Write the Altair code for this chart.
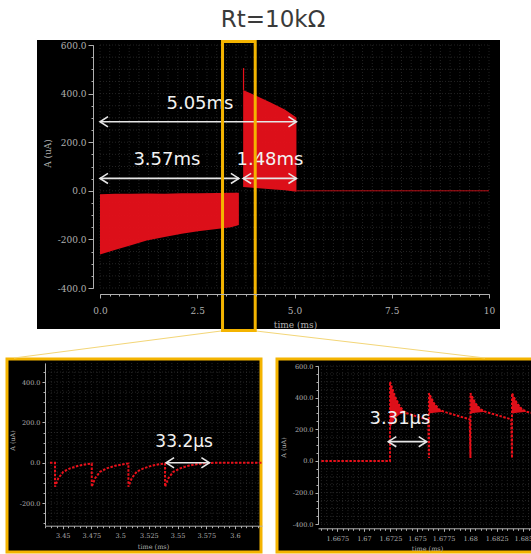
import altair as alt
import pandas as pd

# ---------------- data ----------------
TITLE = "Rt=10kΩ"

# top panel: full record (time in ms, current in uA)
neg_t = [0.0, 0.4, 0.82, 1.2, 1.66, 2.1, 2.52, 3.0, 3.37, 3.57]
neg_hi = [-14, -12, -12, -11, -12, -10, -10, -9, -8, -8]
neg_lo = [-262, -243, -223, -205, -190, -177, -166, -157, -150, -141]
pos_t = [3.68, 4.0, 4.4, 4.75, 5.05]
pos_hi = [415, 392, 362, 335, 302]
pos_lo = [16, 12, 6, 2, -4]
spike_t = [3.69]
spike_lo = [415]
spike_hi = [505]
idle_t = [5.05, 10.0]
idle_v = [0, 0]
top_arrow_start = [0.0, 0.0, 3.68]
top_arrow_end = [5.05, 3.57, 5.05]
top_arrow_y = [284, 51, 51]
top_label_text = ["5.05ms", "3.57ms", "1.48ms"]
top_label_t = [2.57, 1.72, 4.37]
top_label_y = [359, 127, 127]
zoom_window = [3.15, 3.99]

# bottom-left panel: end of the negative burst
bl_t = [3.4389, 3.4433, 3.4433, 3.4462, 3.4505, 3.4564, 3.4636, 3.4709, 3.4753,
        3.4753, 3.4782, 3.4825, 3.4884, 3.4956, 3.5029, 3.5072,
        3.5072, 3.5101, 3.5144, 3.5203, 3.5275, 3.5348, 3.5391,
        3.5391, 3.5420, 3.5463, 3.5522, 3.5594, 3.5667, 3.5730, 3.5780, 3.5850, 3.6235]
bl_v = [0, 0, -119, -77, -45, -28, -15, -7, -4,
        -119, -77, -45, -28, -15, -7, -4,
        -119, -77, -45, -28, -15, -7, -4,
        -119, -77, -45, -28, -15, -7, -3, -1, 0, 0]
bl_arrow = [3.5400, 3.5777]
bl_arrow_y = [0]
bl_label = "33.2μs"
bl_label_t = [3.5557]
bl_label_y = [104]

# bottom-right panel: start of the positive burst
br_t = [1.6660, 1.67246, 1.67246, 1.67293, 1.67340, 1.67387, 1.67606,
        1.67613, 1.67613, 1.67660, 1.67707, 1.67754, 1.67996,
        1.68003, 1.68003, 1.68050, 1.68097, 1.68144, 1.68387,
        1.68394, 1.68394, 1.68441, 1.68488, 1.68535, 1.68700]
br_v = [0, 0, 501, 406, 343, 305, 259,
        19, 428, 364, 326, 311, 263,
        19, 428, 364, 326, 311, 263,
        19, 428, 364, 326, 311, 285]
fin_pulse = [1, 1, 1, 1, 2, 2, 2, 2, 3, 3, 3, 3, 4, 4, 4, 4]
fin_t = [1.67246, 1.67293, 1.67340, 1.67387,
         1.67613, 1.67660, 1.67707, 1.67754,
         1.68003, 1.68050, 1.68097, 1.68144,
         1.68394, 1.68441, 1.68488, 1.68535]
fin_hi = [501, 406, 343, 305, 428, 364, 326, 311, 428, 364, 326, 311, 428, 364, 326, 311]
fin_lo = [208, 270, 295, 305, 300, 305, 308, 311, 300, 305, 308, 311, 300, 305, 308, 311]
br_arrow = [1.67230, 1.67591]
br_arrow_y = [122]
br_label = "3.31μs"
br_label_t = [1.67340]
br_label_y = [265]

# axis tick values
top_x_ticks = [0, 2.5, 5, 7.5, 10]
top_y_ticks = [-400, -200, 0, 200, 400, 600]
bl_x_ticks = [3.45, 3.475, 3.5, 3.525, 3.55, 3.575, 3.6]
bl_y_ticks = [-200, 0, 200, 400]
br_x_ticks = [1.6675, 1.67, 1.6725, 1.675, 1.6775, 1.68, 1.6825, 1.685]
br_y_ticks = [-400, -200, 0, 200, 400, 600]
top_x_minor = [i * 0.25 for i in range(41)]
top_y_minor = [-400 + 50 * i for i in range(21)]
bl_x_minor = [round(3.435 + 0.005 * i, 4) for i in range(38)]
bl_y_minor = [-300 + 50 * i for i in range(16)]
br_x_minor = [round(1.666 + 0.0005 * i, 4) for i in range(46)]
br_y_minor = [-400 + 50 * i for i in range(21)]

# ---------------- styling ----------------
RED = "#e8101a"
GOLD = "#f4b400"
ARROW = "#e6e6e6"
GRID = "#3a3a3a"
AXC = "#b0b0b0"
LEFT_HEAD = "M1.33,-0.85L0,0L1.33,0.85"
RIGHT_HEAD = "M-1.33,-0.85L0,0L-1.33,0.85"
Y_EXPR = "replace(format(datum.value, '.1f'), '\u2212', '-')"
G_EXPR = "format(datum.value, '.6~g')"
TOP_X_EXPR = "datum.value == 10 ? '10' : format(datum.value, '.1f')"


def sc(domain, rng):
    return alt.Scale(domain=domain, range=rng, nice=False, zero=False, clamp=False)


TX = sc([0, 10], [100, 489])
TY = sc([-400, 600], [288, 45])
LX = sc([3.4346, 3.6235], [45, 262])
LY = sc([-310, 495], [525.2, 363.0])
RX = sc([1.665684, 1.688456], [318, 560])
RY = sc([-400, 600], [524.3, 366])
TXS = {"top": TX, "bl": LX, "br": RX}

AX = dict(domainColor=AXC, tickColor=AXC, labelColor=AXC, titleColor=AXC,
          labelFont="DejaVu Serif", titleFont="DejaVu Serif", titleFontWeight="normal",
          grid=False, zindex=1, labelOverlap=False, labelFlush=False)


def major_x(offset, values, fs, pad, tx, ty, expr):
    return alt.Axis(orient="bottom", offset=offset, values=values,
                    tickSize=4 if fs > 7 else 3, labelExpr=expr,
                    labelFontSize=fs, labelPadding=pad, title="time (ms)", titleFontSize=fs,
                    titleX=tx, titleY=ty, titleBaseline="middle", **AX)


def major_y(offset, values, fs, tx, ty):
    return alt.Axis(orient="left", offset=offset, values=values, labelExpr=Y_EXPR,
                    tickSize=5 if fs > 7 else 3, labelFontSize=fs, labelPadding=2,
                    title="A (uA)", titleFontSize=fs, titleX=tx, titleY=ty,
                    titleBaseline="middle", **AX)


def minor(orient, offset, values):
    return alt.Axis(orient=orient, offset=offset, values=values, labels=False, domain=False,
                    tickSize=2, tickColor=AXC, grid=False, zindex=1, title=None)


ONE = pd.DataFrame({"k": [0]})
layers = []

# ---------------- decoration: title, panels, connectors ----------------
layers.append(alt.Chart(ONE).mark_text(font="DejaVu Sans", fontSize=23, color="#3a3a3a",
                                        baseline="alphabetic", align="center")
              .encode(x=alt.value(273), y=alt.value(27), text=alt.value(TITLE)))
layers.append(alt.Chart(ONE).mark_rect(color="black")
              .encode(x=alt.value(37), x2=alt.value(500), y=alt.value(40), y2=alt.value(329)))
layers.append(alt.Chart(ONE).mark_rect(fill="black", stroke=GOLD, strokeWidth=3)
              .encode(x=alt.value(7), x2=alt.value(261), y=alt.value(359), y2=alt.value(552)))
layers.append(alt.Chart(ONE).mark_rect(fill="black", stroke=GOLD, strokeWidth=3)
              .encode(x=alt.value(277), x2=alt.value(560), y=alt.value(359), y2=alt.value(552)))
layers.append(alt.Chart(ONE).mark_rule(color="#f3d679", strokeWidth=1.2)
              .encode(x=alt.value(221), y=alt.value(331), x2=alt.value(14), y2=alt.value(358)))
layers.append(alt.Chart(ONE).mark_rule(color="#f3d679", strokeWidth=1.2)
              .encode(x=alt.value(256), y=alt.value(331), x2=alt.value(485), y2=alt.value(358)))


def grid_layers(xs, ys, XS, YS, x0, x1, y0, y1, xaxis, yaxis):
    g = dict(color=GRID, strokeWidth=0.6, strokeDash=[1, 2])
    v = alt.Chart(pd.DataFrame({"g": xs})).mark_rule(**g).encode(
        x=alt.X("g:Q", scale=XS, axis=xaxis), y=alt.value(y0), y2=alt.value(y1))
    h = alt.Chart(pd.DataFrame({"g": ys})).mark_rule(**g).encode(
        y=alt.Y("g:Q", scale=YS, axis=yaxis), x=alt.value(x0), x2=alt.value(x1))
    return [v, h]


def arrow_layers(starts, ends, ys, XS, YS):
    df = pd.DataFrame({"a": starts, "b": ends, "y": ys})
    base = alt.Chart(df)
    shaft = base.mark_rule(color=ARROW, strokeWidth=1.6).encode(
        x=alt.X("a:Q", scale=XS, axis=None), x2="b:Q", y=alt.Y("y:Q", scale=YS, axis=None))
    lh = base.mark_point(shape=LEFT_HEAD, filled=False, size=144, stroke=ARROW,
                         strokeWidth=1.6, opacity=1).encode(
        x=alt.X("a:Q", scale=XS, axis=None), y=alt.Y("y:Q", scale=YS, axis=None))
    rh = base.mark_point(shape=RIGHT_HEAD, filled=False, size=144, stroke=ARROW,
                         strokeWidth=1.6, opacity=1).encode(
        x=alt.X("b:Q", scale=XS, axis=None), y=alt.Y("y:Q", scale=YS, axis=None))
    return [shaft, lh, rh]


def text_layer(texts, ts, ys, key, YS, size):
    df = pd.DataFrame({"s": texts, "t": ts, "y": ys})
    return alt.Chart(df).mark_text(font="DejaVu Sans", fontSize=size, color="#f2f2f2",
                                   align="center", baseline="middle").encode(
        x=alt.X("t:Q", scale=TXS[key], axis=None), y=alt.Y("y:Q", scale=YS, axis=None),
        text="s:N")


# ---------------- top panel ----------------
layers += grid_layers(top_x_minor, top_y_minor, TX, TY, 100, 489, 45, 288,
                      minor("bottom", -260, top_x_minor), minor("left", -93, top_y_minor))
layers.append(alt.Chart(pd.DataFrame({"t": neg_t, "hi": neg_hi, "lo": neg_lo}))
              .mark_area(color=RED, opacity=0.95)
              .encode(x=alt.X("t:Q", scale=TX,
                              axis=major_x(-260, top_x_ticks, 9, 8, 295, 30, TOP_X_EXPR)),
                      y=alt.Y("lo:Q", scale=TY, axis=major_y(-93, top_y_ticks, 9, -46, 153)),
                      y2="hi:Q"))
layers.append(alt.Chart(pd.DataFrame({"t": pos_t, "hi": pos_hi, "lo": pos_lo}))
              .mark_area(color=RED, opacity=0.95)
              .encode(x=alt.X("t:Q", scale=TX, axis=None), y=alt.Y("lo:Q", scale=TY, axis=None),
                      y2="hi:Q"))
layers.append(alt.Chart(pd.DataFrame({"t": spike_t, "lo": spike_lo, "hi": spike_hi}))
              .mark_rule(color=RED, strokeWidth=1.2)
              .encode(x=alt.X("t:Q", scale=TX, axis=None), y=alt.Y("lo:Q", scale=TY, axis=None),
                      y2="hi:Q"))
layers.append(alt.Chart(pd.DataFrame({"t": idle_t, "v": idle_v}))
              .mark_line(color=RED, strokeWidth=0.8)
              .encode(x=alt.X("t:Q", scale=TX, axis=None), y=alt.Y("v:Q", scale=TY, axis=None)))
layers += arrow_layers(top_arrow_start, top_arrow_end, top_arrow_y, TX, TY)
layers.append(text_layer(top_label_text, top_label_t, top_label_y, "top", TY, 18))
layers.append(alt.Chart(pd.DataFrame({"a": [zoom_window[0]], "b": [zoom_window[1]]}))
              .mark_rect(fillOpacity=0, stroke=GOLD, strokeWidth=3)
              .encode(x=alt.X("a:Q", scale=TX, axis=None), x2="b:Q",
                      y=alt.value(41.5), y2=alt.value(330.5)))

# ---------------- bottom-left panel ----------------
layers += grid_layers(bl_x_minor, bl_y_minor, LX, LY, 45, 260, 363, 525,
                      minor("bottom", -28.3, bl_x_minor), minor("left", -45, bl_y_minor))
layers.append(alt.Chart(pd.DataFrame({"t": bl_t, "v": bl_v, "i": list(range(len(bl_t)))}))
              .mark_line(color=RED, strokeWidth=2, strokeDash=[2.5, 1.5])
              .encode(x=alt.X("t:Q", scale=LX,
                              axis=major_x(-28.3, bl_x_ticks, 6.5, 4, 153, 21, G_EXPR)),
                      y=alt.Y("v:Q", scale=LY, axis=major_y(-45, bl_y_ticks, 6.5, -33, 440)),
                      order="i:Q"))
layers += arrow_layers([bl_arrow[0]], [bl_arrow[1]], bl_arrow_y, LX, LY)
layers.append(text_layer([bl_label], bl_label_t, bl_label_y, "bl", LY, 17))

# ---------------- bottom-right panel ----------------
layers += grid_layers(br_x_minor, br_y_minor, RX, RY, 318, 531, 366, 524,
                      minor("bottom", -25.7, br_x_minor), minor("left", -318, br_y_minor))
layers.append(alt.Chart(pd.DataFrame({"p": fin_pulse, "t": fin_t, "hi": fin_hi, "lo": fin_lo}))
              .mark_area(color=RED, opacity=0.95)
              .encode(x=alt.X("t:Q", scale=RX, axis=None), y=alt.Y("lo:Q", scale=RY, axis=None),
                      y2="hi:Q", detail="p:N"))
layers.append(alt.Chart(pd.DataFrame({"t": br_t, "v": br_v, "i": list(range(len(br_t)))}))
              .mark_line(color=RED, strokeWidth=2, strokeDash=[2.5, 1.5])
              .encode(x=alt.X("t:Q", scale=RX,
                              axis=major_x(-25.7, br_x_ticks, 6.5, 4, 427, 20, G_EXPR)),
                      y=alt.Y("v:Q", scale=RY, axis=major_y(-318, br_y_ticks, 6.5, -35, 447)),
                      order="i:Q"))
layers += arrow_layers([br_arrow[0]], [br_arrow[1]], br_arrow_y, RX, RY)
layers.append(text_layer([br_label], br_label_t, br_label_y, "br", RY, 18))

chart = (alt.layer(*layers)
         .resolve_scale(x="independent", y="independent")
         .properties(width=531, height=554, padding=0, background="white",
                     autosize=alt.AutoSizeParams(type="none"))
         .configure_view(stroke=None))

chart.save("out.html", embed_options={"renderer": "svg", "actions": False})
